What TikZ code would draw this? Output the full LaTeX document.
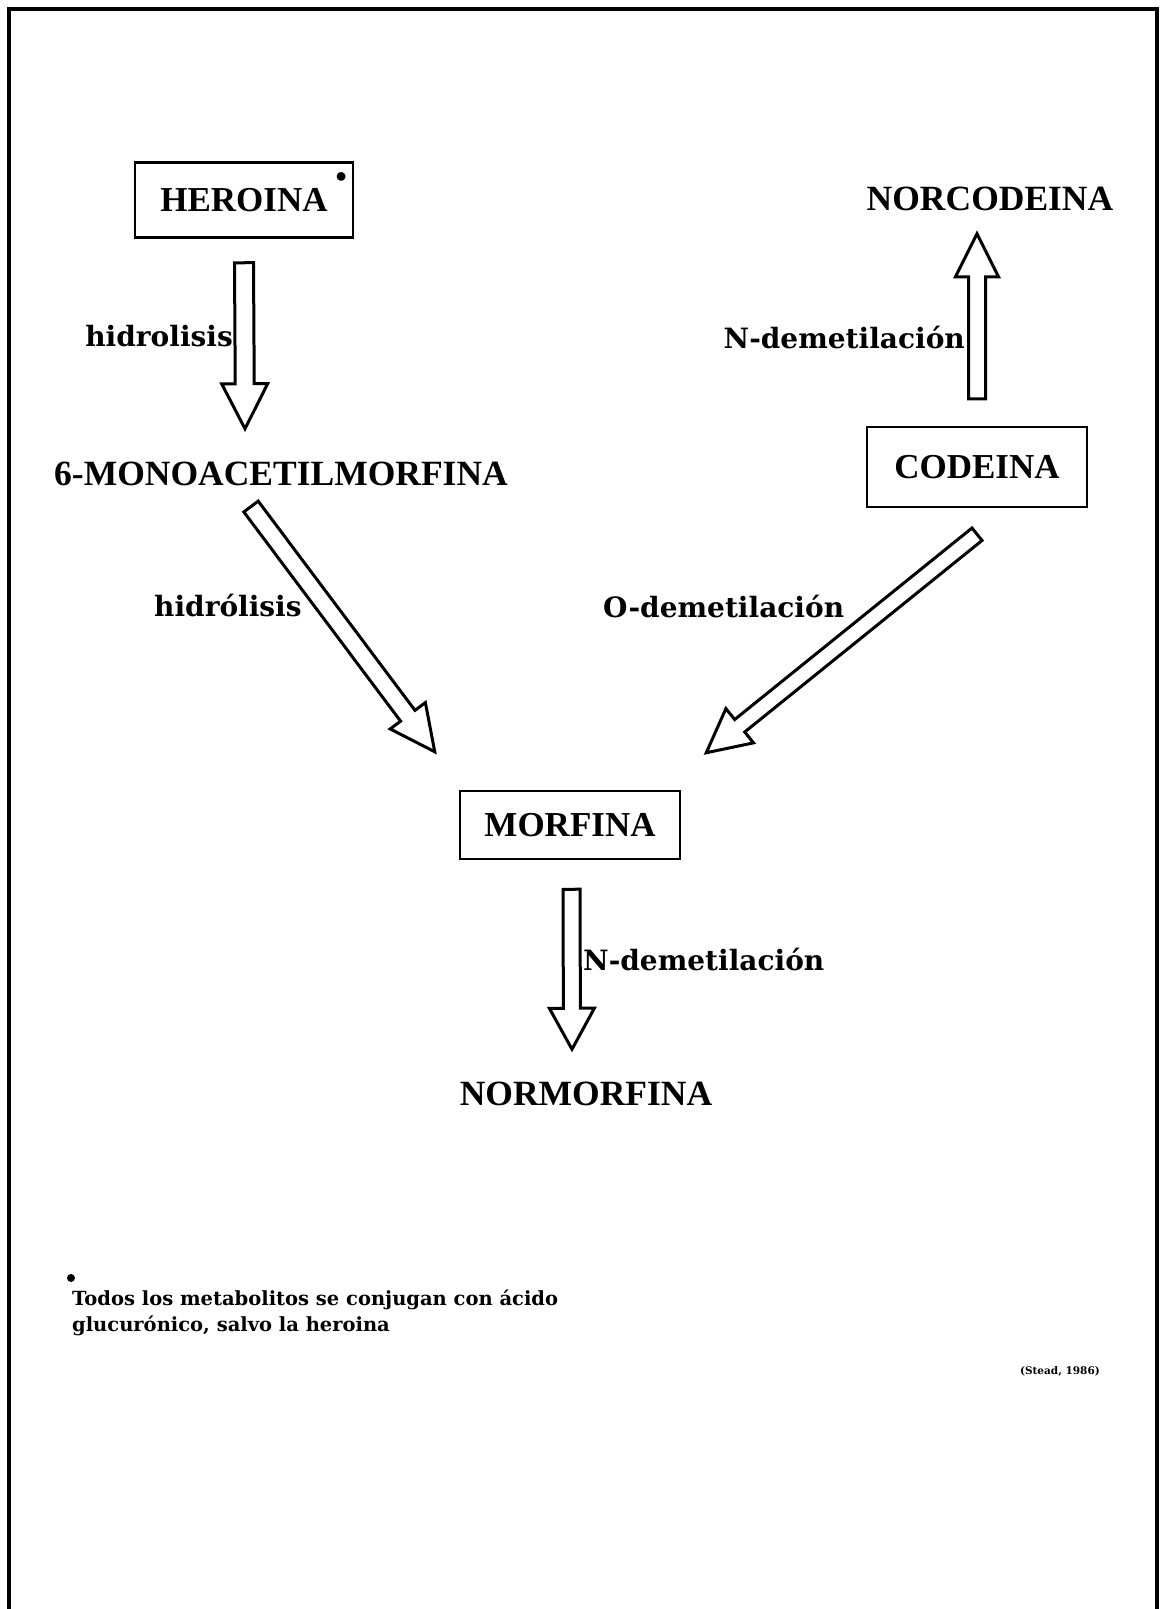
\documentclass[tikz,border=0pt]{standalone}
\usepackage{fontspec}
\setmainfont{Liberation Serif}
\newfontfamily\lblfont{DejaVu Serif}
\usetikzlibrary{calc}
\newcommand\blockarrow[6]{%
  \coordinate (#1t) at #2;
  \coordinate (#1h) at #3;
  \coordinate (#1b) at ($(#1h)!#6!(#1t)$);
  \draw[barrow] ($(#1t)!#4!90:(#1h)$) -- ($(#1b)!#4!90:(#1h)$) -- ($(#1b)!#5!90:(#1h)$) -- (#1h)
     -- ($(#1b)!#5!-90:(#1h)$) -- ($(#1b)!#4!-90:(#1h)$) -- ($(#1t)!#4!-90:(#1h)$) -- cycle;}
\begin{document}
\begin{tikzpicture}[x=1pt,y=-1pt,
  captext/.style={font=\fontsize{35.5}{40}\selectfont\bfseries, inner sep=0pt},
  boxed/.style={draw, line width=2.5pt, inner sep=0pt, font=\fontsize{35}{40}\selectfont\bfseries},
  lbl/.style={font=\lblfont\fontsize{28}{32}\selectfont\bfseries, inner sep=0pt},
  barrow/.style={draw, line width=3pt, fill=white, line join=miter}]
\useasboundingbox (0,0) rectangle (1162,1609);
\draw[line width=4pt] (9,1609) -- (9,9) -- (1157,9) -- (1157,1609);

% boxed nodes
\node[boxed, minimum width=218pt, minimum height=75pt] (herbox) at (244,200)
  {HEROINA\rlap{\hspace{8pt}\raisebox{24pt}[0pt][0pt]{\fontsize{32}{32}\selectfont\textbullet}}};
\node[boxed, minimum width=220pt, minimum height=80pt] (codbox) at (977,467) {CODEINA};
\node[boxed, minimum width=220pt, minimum height=68pt] (morbox) at (570,825) {MORFINA};

% plain nodes
\node[captext, anchor=base] (mono) at (281,485) {6-MONOACETILMORFINA};
\node[captext, anchor=base] (norc) at (990,210) {NORCODEINA};
\node[captext, anchor=base] (norm) at (586,1105) {NORMORFINA};

% labels
\node[lbl, anchor=base east] (l1) at (233,346) {hidrolisis};
\node[lbl, anchor=base east] (l2) at (965,348) {N-demetilación};
\node[lbl, anchor=base west] (l3) at (154,616) {hidrólisis};
\node[lbl, anchor=base west] (l4) at (603,617) {O-demetilación};
\node[lbl, anchor=base west] (l5) at (583,970) {N-demetilación};

% arrows
\blockarrow{a1}{($(herbox.south)+(0,24)$)}{($(herbox.south)+(1,190)$)}{9.5pt}{23pt}{45pt}
\blockarrow{a2}{($(mono.south)+(-30,21)$)}{($(morbox.north west)+(-24,-38)$)}{9pt}{22pt}{45pt}
\blockarrow{a3}{($(codbox.south)+(0,26)$)}{($(morbox.north east)+(25,-37)$)}{8pt}{22pt}{43pt}
\blockarrow{a4}{($(codbox.north)+(0,-27)$)}{($(codbox.north)+(0,-192)$)}{8.5pt}{21.5pt}{43pt}
\blockarrow{a5}{($(morbox.south)+(1.5,29)$)}{($(morbox.south)+(2,189)$)}{8.5pt}{22.5pt}{41pt}

% footnote
\node[circle, fill, inner sep=0pt, minimum size=8pt] (fndot) at (71,1278) {};
\node[anchor=north west, align=left, inner sep=0pt,
      font=\lblfont\fontsize{19.5}{26}\selectfont\bfseries] (fn) at (72,1290)
      {Todos los metabolitos se conjugan con ácido\\glucurónico, salvo la heroina};
\node[anchor=base east, inner sep=0pt, font=\lblfont\fontsize{10.5}{13}\selectfont\bfseries] (cite) at (1100,1374) {(Stead, 1986)};
\end{tikzpicture}
\end{document}
